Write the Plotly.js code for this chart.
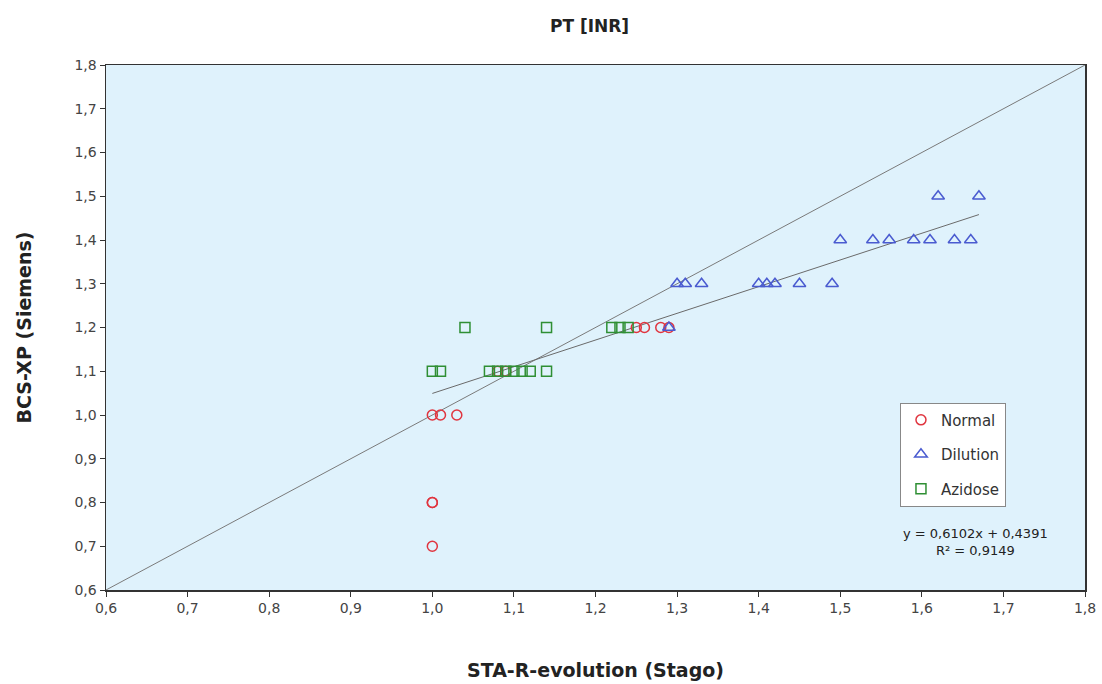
<!DOCTYPE html>
<html><head><meta charset="utf-8">
<script src="https://cdn.plot.ly/plotly-3.0.1.min.js"></script>
<style>body{margin:0;background:#fff}#chart{width:1102px;height:684px}</style>
</head><body><div id="chart"></div>
<script>
// Normal
const normalX = [1.00, 1.00, 1.00, 1.00, 1.01, 1.03, 1.08, 1.09, 1.25, 1.26, 1.28, 1.29];
const normalY = [0.70, 0.80, 0.80, 1.00, 1.00, 1.00, 1.10, 1.10, 1.20, 1.20, 1.20, 1.20];
// Dilution
const dilutionX = [1.29, 1.30, 1.31, 1.33, 1.40, 1.41, 1.42, 1.45, 1.49, 1.50, 1.54, 1.56, 1.59, 1.61, 1.64, 1.66, 1.62, 1.67];
const dilutionY = [1.20, 1.30, 1.30, 1.30, 1.30, 1.30, 1.30, 1.30, 1.30, 1.40, 1.40, 1.40, 1.40, 1.40, 1.40, 1.40, 1.50, 1.50];
// Azidose
const azidoseX = [1.04, 1.14, 1.22, 1.23, 1.24, 1.00, 1.01, 1.07, 1.08, 1.09, 1.10, 1.11, 1.12, 1.14];
const azidoseY = [1.20, 1.20, 1.20, 1.20, 1.20, 1.10, 1.10, 1.10, 1.10, 1.10, 1.10, 1.10, 1.10, 1.10];
// trendline y = 0.6102x + 0.4391 over the data range
const slope = 0.6102, intercept = 0.4391;
const trendX = [1.00, 1.67];
const identityX = [0.6, 1.8];
const axisTicks = [0.6,0.7,0.8,0.9,1.0,1.1,1.2,1.3,1.4,1.5,1.6,1.7,1.8];

const FONT = 'DejaVu Sans, Verdana, sans-serif';
const red = '#e0353f', blue = '#4a5bd0', green = '#2f8f34';
const traces = [
  {x: identityX, y: identityX, mode: 'lines', line: {color: '#7a7a7a', width: 1}, showlegend: false, hoverinfo: 'skip'},
  {x: trendX, y: trendX.map(v => slope*v + intercept), mode: 'lines', line: {color: '#6a6a6a', width: 1}, showlegend: false, hoverinfo: 'skip'},
  {x: normalX, y: normalY, mode: 'markers', name: 'Normal', legendgroup: 'a', marker: {symbol: 'circle-open', size: 10, color: red, line: {width: 1.5}}},
  {x: dilutionX, y: dilutionY, mode: 'markers', name: 'Dilution', legendgroup: 'b', marker: {symbol: 'triangle-up-open', size: 11, color: blue, line: {width: 1.5}}},
  {x: azidoseX, y: azidoseY, mode: 'markers', name: 'Azidose', legendgroup: 'c', marker: {symbol: 'square-open', size: 10, color: green, line: {width: 1.5}}}
];

const axisCommon = {
  range: [0.6, 1.8], tickvals: axisTicks, tickformat: '.1f',
  showgrid: false, zeroline: false, showline: true, linecolor: '#333', linewidth: 1.5, mirror: true,
  ticks: 'outside', ticklen: 5, tickcolor: '#333',
  tickfont: {family: FONT, size: 14, color: '#444'}
};
const layout = {
  width: 1102, height: 684,
  margin: {l: 106, r: 17, t: 65, b: 94},
  separators: ',.',
  paper_bgcolor: '#ffffff', plot_bgcolor: '#dff2fc',
  title: {text: '<b>PT [INR]</b>', x: 0.535, xanchor: 'center', y: 0.962, yanchor: 'middle',
          font: {family: FONT, size: 17, color: '#222'}},
  xaxis: Object.assign({}, axisCommon, {title: {text: '<b>STA-R-evolution (Stago)</b>', standoff: 48,
          font: {family: FONT, size: 19, color: '#222'}}}),
  yaxis: Object.assign({}, axisCommon, {title: {text: '<b>BCS-XP (Siemens)</b>', standoff: 38,
          font: {family: FONT, size: 19, color: '#222'}}}),
  legend: {x: 0.811, y: 0.357, xanchor: 'left', yanchor: 'top', bgcolor: '#ffffff',
           bordercolor: '#888', borderwidth: 1, itemwidth: 30,
           font: {family: FONT, size: 15, color: '#333'}, tracegroupgap: 12},
  annotations: [{xref: 'paper', yref: 'paper',
     x: (975-106)/979, y: (590-542)/525, xanchor: 'center', yanchor: 'middle', showarrow: false,
     text: 'y = 0,6102x + 0,4391<br>R² = 0,9149', align: 'center',
     font: {family: FONT, size: 13, color: '#222'}}],
  showlegend: true
};
Plotly.newPlot('chart', traces, layout, {displayModeBar: false, staticPlot: true});
</script></body></html>
